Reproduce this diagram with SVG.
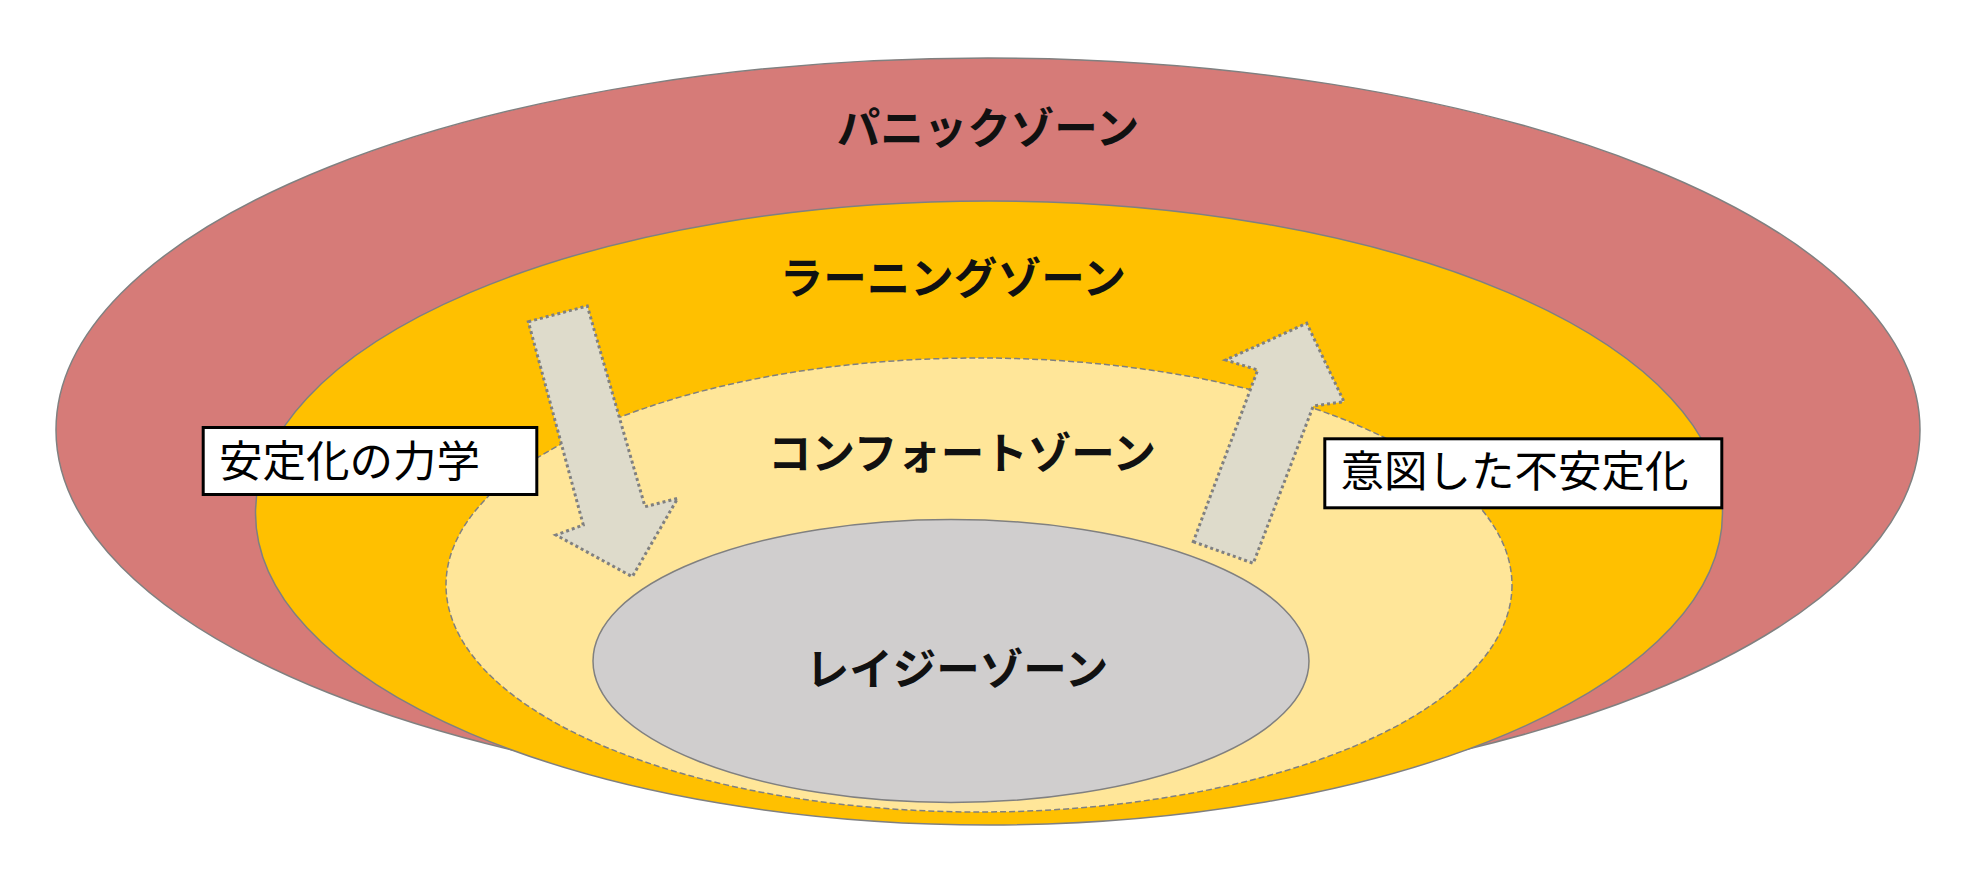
<svg xmlns="http://www.w3.org/2000/svg" width="1976" height="872" viewBox="0 0 1976 872">
<style>
.zone{stroke:#808080;stroke-width:1.5}
.dash{stroke-dasharray:6 3}
.arrow{fill:#DEDBCB;stroke:#808080;stroke-width:3;stroke-dasharray:3 3;stroke-linejoin:miter}
.box{fill:#FFFFFF;stroke:#000000;stroke-width:3}
.title{font-family:"Noto Sans CJK JP","Noto Sans",sans-serif;font-weight:700;font-size:43.5px;fill:#111111;text-anchor:middle}
.label{font-family:"Noto Sans CJK JP","Noto Sans",sans-serif;font-weight:400;font-size:43.5px;fill:#000000}
</style>
<rect width="1976" height="872" fill="#FFFFFF"/>
<g id="panic">
<ellipse class="zone" cx="988" cy="430" rx="932" ry="372" fill="#D67B78"/>
<text class="title" x="988" y="143.5">パニックゾーン</text>
</g>
<g id="learning">
<ellipse class="zone" cx="989" cy="513" rx="733.5" ry="312" fill="#FFC000"/>
<text class="title" x="953" y="293.5">ラーニングゾーン</text>
</g>
<g id="comfort">
<ellipse class="zone dash" cx="979" cy="585" rx="533" ry="227" fill="#FFE699"/>
<text class="title" x="962" y="468.5">コンフォートゾーン</text>
</g>
<g id="lazy">
<ellipse class="zone" cx="951" cy="661" rx="358" ry="141.5" fill="#D0CECE"/>
<text class="title" x="957" y="684.5">レイジーゾーン</text>
</g>
<g id="connectors">
<polygon id="arrow-down" class="arrow" points="528.3,321.7 587.3,306 645,506.7 677.7,498.3 632.3,576.7 556,535 583.3,525"/>
<polygon id="arrow-up" class="arrow" points="1193.3,541.7 1253.3,563.3 1313.3,406 1344,401.7 1306.7,323.3 1225.7,360 1257.7,370"/>
</g>
<g id="label-stabilize">
<rect class="box" x="203.2" y="427.5" width="333.6" height="67"/>
<text class="label" x="219" y="476.5">安定化の力学</text>
</g>
<g id="label-destabilize">
<rect class="box" x="1324.8" y="438.8" width="397" height="69"/>
<text class="label" x="1340.5" y="486.5">意図した不安定化</text>
</g>
</svg>
